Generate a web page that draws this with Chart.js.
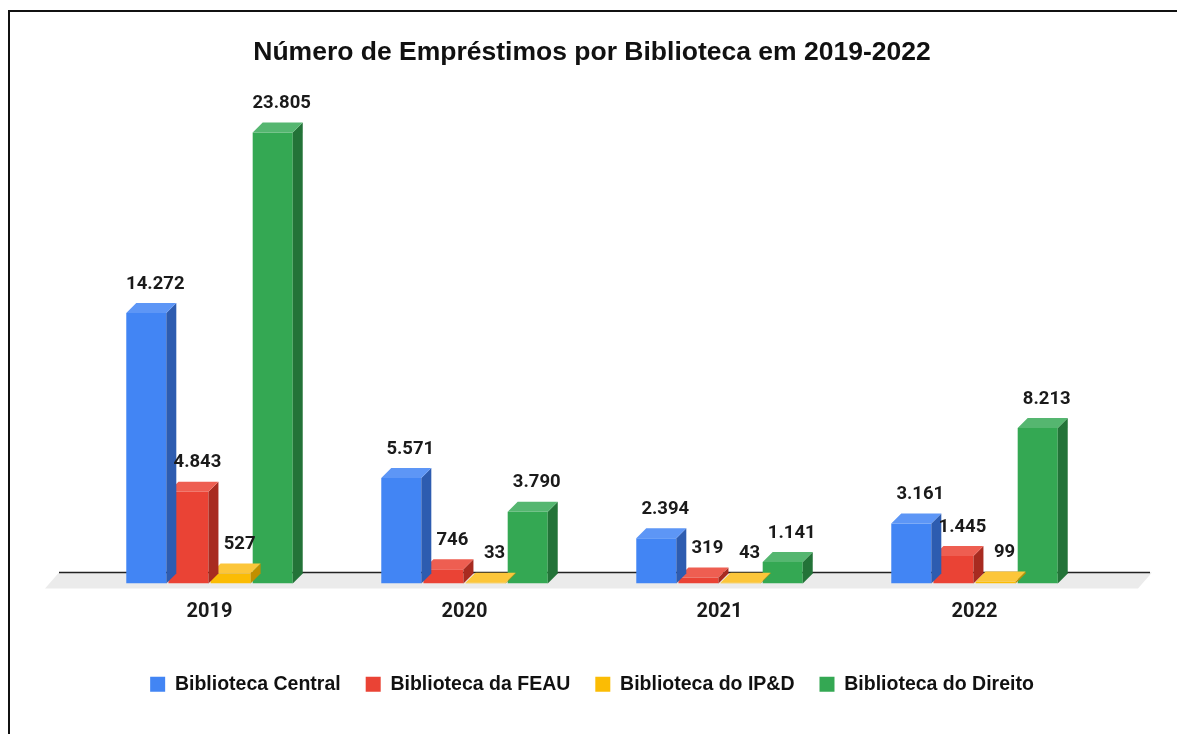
<!DOCTYPE html>
<html>
<head>
<meta charset="utf-8">
<script src="https://cdn.jsdelivr.net/npm/chart.js@4.4.1/dist/chart.umd.min.js"></script>
<style>
    html, body { margin: 0; padding: 0; background: #fff; }
    #wrap { position: relative; width: 1177px; height: 734px; overflow: hidden; }
    #moldura { position: absolute; left: 8px; top: 10px; width: 1200px; height: 740px; border-top: 2px solid #111; border-left: 2px solid #111; pointer-events: none; }
</style>
</head>
<body>
<div id="wrap">
    <canvas id="emprestimos" width="1177" height="734"></canvas>
    <div id="moldura"></div>
</div>
<script>
var anos = ["2019", "2020", "2021", "2022"];
var bibliotecas = ["Biblioteca Central", "Biblioteca da FEAU", "Biblioteca do IP&D", "Biblioteca do Direito"];
var central = [14272, 5571, 2394, 3161];
var feau = [4843, 746, 319, 1445];
var ipd = [527, 33, 43, 99];
var direito = [23805, 3790, 1141, 8213];

var frente = ["#4285F4", "#EA4335", "#FBBC04", "#34A853"];
var lados = ["#2d5cb0", "#a82b20", "#c08f00", "#237338"];
var topos = ["#5d96f6", "#ee5e51", "#fcc63a", "#55b670"];
var profundidade = 10;

function formatar(v) {
    return String(v).replace(/\B(?=(\d{3})+(?!\d))/g, ".");
}

var barras3d = {
    id: "barras3d",
    beforeDatasetsDraw: function (chart) {
        var ctx = chart.ctx;
        var area = chart.chartArea;
        var base = chart.scales.y.getPixelForValue(0);
        ctx.save();
        // piso cinza
        ctx.fillStyle = "#ebebeb";
        ctx.beginPath();
        ctx.moveTo(area.left - 37, base + 5);
        ctx.lineTo(area.right + 36, base + 5);
        ctx.lineTo(area.right + 50, base - 11);
        ctx.lineTo(area.left - 23, base - 11);
        ctx.closePath();
        ctx.fill();
        ctx.strokeStyle = "#222";
        ctx.lineWidth = 1.5;
        ctx.beginPath();
        ctx.moveTo(area.left - 23, base - 11);
        ctx.lineTo(area.right + 48, base - 11);
        ctx.stroke();
        ctx.restore();
    },
    afterDatasetDraw: function (chart, args) {
        var ctx = chart.ctx;
        var i = args.index;
        var d = profundidade;
        ctx.save();
        args.meta.data.forEach(function (bar) {
            var p = bar.getProps(["x", "y", "base", "width"], true);
            var l = p.x - p.width / 2;
            var r = p.x + p.width / 2;
            var t = p.y;
            var b = p.base;
            ctx.fillStyle = lados[i];
            ctx.beginPath();
            ctx.moveTo(r, t);
            ctx.lineTo(r + d, t - d);
            ctx.lineTo(r + d, b - d);
            ctx.lineTo(r, b);
            ctx.closePath();
            ctx.fill();
            ctx.fillStyle = topos[i];
            ctx.beginPath();
            ctx.moveTo(l, t);
            ctx.lineTo(l + d, t - d);
            ctx.lineTo(r + d, t - d);
            ctx.lineTo(r, t);
            ctx.closePath();
            ctx.fill();
        });
        ctx.restore();
    },
    afterDatasetsDraw: function (chart) {
        var ctx = chart.ctx;
        ctx.save();
        ctx.font = "bold 18.5px Roboto";
        ctx.fillStyle = "#1a1a1a";
        ctx.textAlign = "center";
        ctx.textBaseline = "middle";
        chart.data.datasets.forEach(function (ds, i) {
            chart.getDatasetMeta(i).data.forEach(function (bar, j) {
                var p = bar.getProps(["x", "y"], true);
                ctx.fillText(formatar(ds.data[j]), p.x + 9, p.y - profundidade - 19);
            });
        });
        ctx.restore();
    }
};

var series = [central, feau, ipd, direito];
var conjuntos = series.map(function (valores, i) {
    return {
        label: bibliotecas[i],
        data: valores,
        backgroundColor: frente[i],
        borderWidth: 0,
        barPercentage: 0.95,
        categoryPercentage: 0.661
    };
});

var ctx = document.getElementById("emprestimos");
var grafico = new Chart(ctx, {
    type: "bar",
    data: {
        labels: anos,
        datasets: conjuntos
    },
    options: {
        responsive: false,
        animation: false,
        devicePixelRatio: 1,
        layout: {
            padding: { left: 82, right: 75, top: 0, bottom: 30 }
        },
        scales: {
            x: {
                grid: { display: false, drawTicks: false },
                border: { display: false },
                ticks: {
                    color: "#1a1a1a",
                    padding: 16,
                    font: { family: "Roboto", size: 20, weight: "bold" }
                },
                afterFit: function (scale) {
                    scale.height = 66;
                }
            },
            y: {
                display: false,
                min: 0,
                max: 25000
            }
        },
        plugins: {
            title: {
                display: true,
                text: "Número de Empréstimos por Biblioteca em 2019-2022",
                color: "#111",
                font: { family: "Liberation Sans", size: 26.5, weight: "bold" },
                padding: { top: 37, bottom: 41 }
            },
            legend: {
                position: "bottom",
                labels: {
                    color: "#111",
                    boxWidth: 15,
                    boxHeight: 15,
                    padding: 25,
                    font: { family: "Liberation Sans", size: 19.5, weight: "bold" }
                }
            },
            tooltip: { enabled: false }
        }
    },
    plugins: [barras3d]
});
</script>
</body>
</html>
